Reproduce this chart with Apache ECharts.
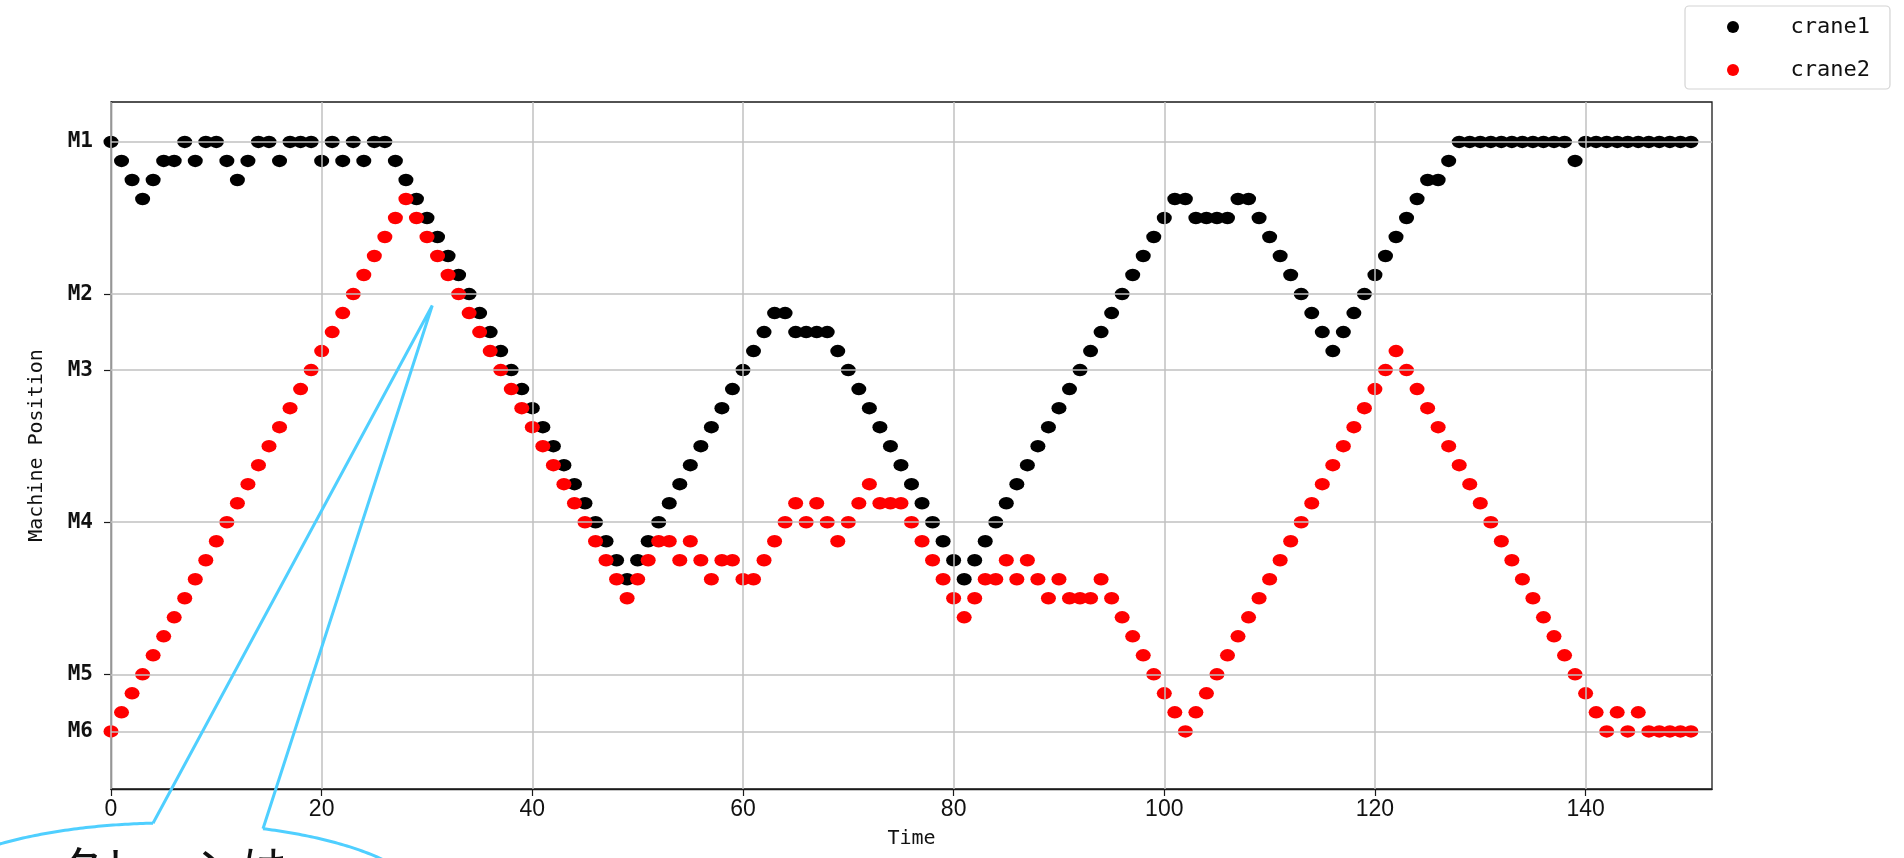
<!DOCTYPE html>
<html><head><meta charset="utf-8">
<script src="https://cdn.jsdelivr.net/npm/echarts@6/dist/echarts.min.js"></script>
<style>html,body{margin:0;padding:0;background:#fff}#c{width:1904px;height:858px}</style>
</head><body><div id="c"></div>
<script>
// ---- data ----
const seriesNames = ['crane1', 'crane2'];
const timeTicks = [0, 20, 40, 60, 80, 100, 120, 140];
const machineLabels = ['M1', 'M2', 'M3', 'M4', 'M5', 'M6'];
const machineLevels = [0, 8, 12, 20, 28, 31];   // steps below M1
// crane positions per time step t = 0..150 (steps below M1)
const crane1 = [
  0,1,2,3,2,1,1,0,1,0,
  0,1,2,1,0,0,1,0,0,0,
  1,0,1,0,1,0,0,1,2,3,
  4,5,6,7,8,9,10,11,12,13,
  14,15,16,17,18,19,20,21,22,23,
  22,21,20,19,18,17,16,15,14,13,
  12,11,10,9,9,10,10,10,10,11,
  12,13,14,15,16,17,18,19,20,21,
  22,23,22,21,20,19,18,17,16,15,
  14,13,12,11,10,9,8,7,6,5,
  4,3,3,4,4,4,4,3,3,4,
  5,6,7,8,9,10,11,10,9,8,
  7,6,5,4,3,2,2,1,0,0,
  0,0,0,0,0,0,0,0,0,1,
  0,0,0,0,0,0,0,0,0,0,0
];
const crane2 = [
  31,30,29,28,27,26,25,24,23,22,
  21,20,19,18,17,16,15,14,13,12,
  11,10,9,8,7,6,5,4,3,4,
  5,6,7,8,9,10,11,12,13,14,
  15,16,17,18,19,20,21,22,23,24,
  23,22,21,21,22,21,22,23,22,22,
  23,23,22,21,20,19,20,19,20,21,
  20,19,18,19,19,19,20,21,22,23,
  24,25,24,23,23,22,23,22,23,24,
  23,24,24,24,23,24,25,26,27,28,
  29,30,31,30,29,28,27,26,25,24,
  23,22,21,20,19,18,17,16,15,14,
  13,12,11,12,13,14,15,16,17,18,
  19,20,21,22,23,24,25,26,27,28,
  29,30,31,30,31,30,31,31,31,31,31
];
const calloutText = 'クレーンは';
const calloutTarget = [30.5, 8.6];

// ---- chart ----
const dot = 'path://M0,5A5,5,0,1,1,10,5A5,5,0,1,1,0,5Z';
const toPts = arr => arr.map((v, i) => [i, v]);
const frame = '#1a1a1a';
const gridColor = '#c0c0c0';
const monoFont = 'DejaVu Sans Mono';
const chart = echarts.init(document.getElementById('c'), null, {renderer: 'canvas'});

const gridMarks = timeTicks.map(v => ({xAxis: v})).concat(machineLevels.map(v => ({yAxis: v})));

chart.setOption({
  animation: false,
  backgroundColor: '#ffffff',
  grid: {left: 111, right: 192, top: 102, bottom: 69, containLabel: false, outerBoundsMode: 'none',
         show: true, borderColor: frame, borderWidth: 1.3, backgroundColor: '#fff'},
  legend: {
    left: 1685, top: 6, orient: 'vertical',
    data: seriesNames.map(n => ({name: n, icon: dot})),
    itemWidth: 15, itemHeight: 12, itemGap: 21,
    padding: [10, 20, 8, 42],
    backgroundColor: '#fff', borderColor: '#d4d4d4', borderWidth: 1.2, borderRadius: 4,
    textStyle: {fontFamily: monoFont, fontSize: 22, color: '#111', padding: [0, 0, 0, 45]}
  },
  xAxis: {
    type: 'value', min: 0, max: 152,
    name: 'Time', nameLocation: 'middle', nameGap: 40, nameMoveOverlap: false,
    nameTextStyle: {fontFamily: monoFont, fontSize: 20, color: '#111'},
    axisLine: {show: true, onZero: false, lineStyle: {color: frame, width: 1.3}},
    axisTick: {show: true, length: 7, customValues: timeTicks, lineStyle: {color: frame, width: 1.2}},
    axisLabel: {customValues: timeTicks, margin: 9, fontFamily: 'Liberation Sans', fontSize: 23, color: '#111'},
    splitLine: {show: false}
  },
  yAxis: {
    type: 'value', inverse: true, min: -2.1, max: 34.03,
    name: 'Machine Position', nameLocation: 'middle', nameGap: 64, nameMoveOverlap: false,
    nameTextStyle: {fontFamily: monoFont, fontSize: 20, color: '#111'},
    axisLine: {show: true, onZero: false, lineStyle: {color: frame, width: 1.3}},
    axisTick: {show: true, length: 7, customValues: machineLevels, lineStyle: {color: frame, width: 1.2}},
    axisLabel: {customValues: machineLevels, margin: 18,
      formatter: v => machineLabels[machineLevels.indexOf(Math.round(v))] || '',
      fontFamily: monoFont, fontWeight: 'bold', fontSize: 21, color: '#111'},
    splitLine: {show: false}
  },
  series: [
    {name: 'gridlines', type: 'line', data: [], z: 1, silent: true,
     markLine: {silent: true, symbol: 'none', animation: false, label: {show: false},
       lineStyle: {color: gridColor, width: 1.5, type: 'solid'}, emphasis: {disabled: true},
       data: gridMarks}},
    {name: 'crane1', type: 'scatter', data: toPts(crane1), symbol: dot, symbolSize: [15, 12.5],
     itemStyle: {color: '#000000', opacity: 1}, emphasis: {disabled: true}, z: 3},
    {name: 'crane2', type: 'scatter', data: toPts(crane2), symbol: dot, symbolSize: [15, 12.5],
     itemStyle: {color: '#ff0000', opacity: 1}, emphasis: {disabled: true}, z: 3}
  ]
});

// ---- callout annotation ----
const tip = chart.convertToPixel({gridIndex: 0}, calloutTarget);
const ecx = 170, ecy = 909, erx = 260, ery = 86;
const ey = x => ecy - ery * Math.sqrt(Math.max(0, 1 - Math.pow((x - ecx) / erx, 2)));
const arc = (x0, x1) => { const p = []; for (let x = x0; x <= x1; x += 3) p.push([x, ey(x)]); p.push([x1, ey(x1)]); return p; };
const blue = '#4fcfff';
chart.setOption({
  graphic: [
    {type: 'polyline', z: 100, shape: {points: arc(-10, 153)}, style: {stroke: blue, lineWidth: 3, fill: null}},
    {type: 'polyline', z: 100, shape: {points: arc(263, 420)}, style: {stroke: blue, lineWidth: 3, fill: null}},
    {type: 'polyline', z: 100, shape: {points: [[153, ey(153)], tip, [263, ey(263)]]},
     style: {stroke: blue, lineWidth: 3, fill: null, lineJoin: 'miter'}},
    {type: 'text', z: 100, x: 57, y: 844,
     style: {text: calloutText, font: '46px "Noto Sans CJK JP"', fill: '#111', verticalAlign: 'top', align: 'left'}}
  ]
});
</script>
</body></html>
